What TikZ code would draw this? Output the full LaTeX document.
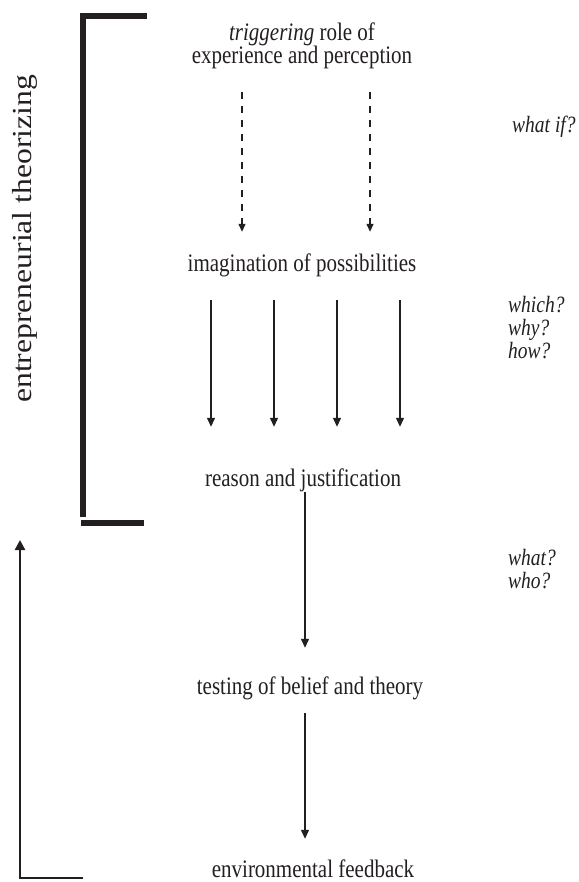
\documentclass[tikz,border=0pt]{standalone}
\usepackage{fontspec}
\usepackage{graphicx}
\setmainfont{Liberation Serif}
\usetikzlibrary{arrows.meta}
\definecolor{ink}{RGB}{35,31,32}
\newcommand{\ytxt}[1]{\scalebox{1}[1.2]{\fontsize{21}{23}\selectfont #1}}
\newcommand{\qtext}[1]{\scalebox{1}[1.2]{\fontsize{19.5}{21}\selectfont\itshape #1}}
\begin{document}
\begin{tikzpicture}[x=1pt,y=-1pt,
  txt/.style={inner sep=0pt, text height=17pt, text depth=5pt, anchor=base, text=ink},
  qtxt/.style={inner sep=0pt, anchor=base west, text=ink},
  arr/.style={draw=ink, line width=1.3pt, -{Triangle[length=9pt,width=8pt]}},
  dasharr/.style={draw=ink, line width=1.3pt, dash pattern=on 7pt off 7pt, -{Triangle[length=8pt,width=7pt]}},
  fbarr/.style={draw=ink, line width=2.8pt, -{Triangle[length=10pt,width=10pt]}},
  brack/.style={draw=ink, line width=6.5pt}]
\useasboundingbox (0,0) rectangle (578,882);

% bracket
\coordinate (bTR) at (147,16);
\coordinate (bTL) at (83,16);
\coordinate (bBL) at (83,517);
\coordinate (bHL) at (81,523);
\coordinate (bHR) at (144,523);
\draw[brack] (bTR) -- (bTL) -- (bBL);
\draw[brack] (bHL) -- (bHR);

\node[inner sep=0pt, rotate=90, text=ink] (lab) at (25,239)
  {\scalebox{1.15}[1]{\fontsize{27.5}{30}\selectfont entrepreneurial theorizing}};

% main texts
\node[txt] (trig1) at (302,41) {\ytxt{\textit{triggering} role of}};
\node[txt] (trig2) at (302,64) {\ytxt{experience and perception}};
\node[txt] (imag) at (302,272) {\ytxt{imagination of possibilities}};
\node[txt] (reason) at (303,486) {\ytxt{reason and justification}};
\node[txt] (test) at (310,694) {\ytxt{testing of belief and theory}};
\node[txt] (env) at (313,877) {\ytxt{environmental feedback}};

% questions
\node[qtxt] (q1) at (512,133) {\qtext{what if?}};
\node[qtxt] (q2) at (508,312) {\qtext{which?}};
\node[qtxt] (q3) at (508,335) {\qtext{why?}};
\node[qtxt] (q4) at (508,358) {\qtext{how?}};
\node[qtxt] (q5) at (508,565) {\qtext{what?}};
\node[qtxt] (q6) at (508,588) {\qtext{who?}};

% columns
\coordinate (d1) at (242,0);
\coordinate (d2) at (370,0);
\coordinate (s1) at (211,0);
\coordinate (s2) at (274,0);
\coordinate (s3) at (337,0);
\coordinate (s4) at (400,0);
\coordinate (m) at (305,0);

\draw[dasharr, shorten <=23pt, shorten >=23pt] (trig2.south -| d1) -- (imag.north -| d1);
\draw[dasharr, shorten <=23pt, shorten >=23pt] (trig2.south -| d2) -- (imag.north -| d2);

\foreach \c in {s1,s2,s3,s4}
  \draw[arr, shorten <=23pt, shorten >=42pt] (imag.south -| \c) -- (reason.north -| \c);

\draw[arr, shorten <=1pt, shorten >=29pt] (reason.south -| m) -- (test.north -| m);
\draw[arr, shorten <=14pt, shorten >=21pt] (test.south -| m) -- (env.north -| m);

% feedback arrow
\coordinate (fA) at (83,878);
\coordinate (fB) at (20,878);
\coordinate (fT) at (20,540);
\draw[fbarr] (fA) -- (fB) -- (fT);
\end{tikzpicture}
\end{document}
